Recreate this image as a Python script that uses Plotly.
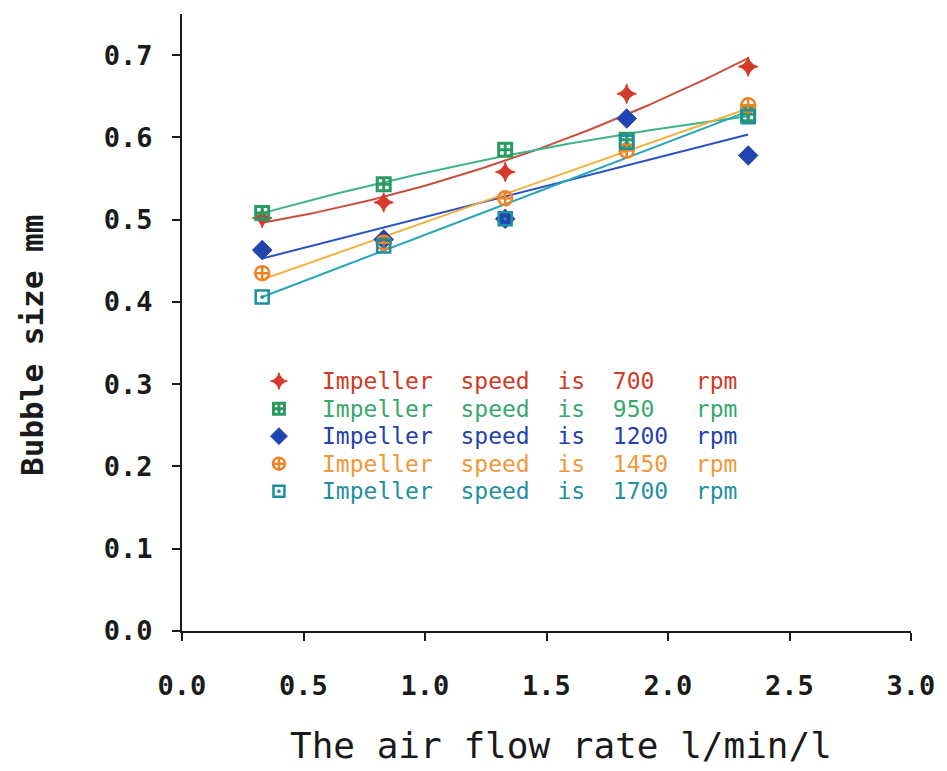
import numpy as np
import plotly.graph_objects as go

# ---------------- data ----------------
air_flow = [0.33, 0.83, 1.33, 1.83, 2.33]
speeds = [700, 950, 1200, 1450, 1700]
bubble_700 = [0.502, 0.521, 0.558, 0.653, 0.686]
bubble_950 = [0.508, 0.543, 0.585, 0.597, 0.628]
bubble_1200 = [0.463, 0.476, 0.501, 0.623, 0.578]
bubble_1450 = [0.435, 0.472, 0.526, 0.584, 0.639]
bubble_1700 = [0.406, 0.468, 0.501, 0.594, 0.625]
fit_degree = [2, 2, 1, 1, 1]

x_tickvals = [0.0, 0.5, 1.0, 1.5, 2.0, 2.5, 3.0]
x_ticktext = ["0.0", "0.5", "1.0", "1.5", "2.0", "2.5", "3.0"]
y_tickvals = [0.0, 0.1, 0.2, 0.3, 0.4, 0.5, 0.6, 0.7]
y_ticktext = ["0.0", "0.1", "0.2", "0.3", "0.4", "0.5", "0.6", "0.7"]

# ---------------- styles ----------------
series = [bubble_700, bubble_950, bubble_1200, bubble_1450, bubble_1700]
marker_colors = ["#d63a2a", "#2a9a62", "#2244b0", "#f08424", "#1a8fa0"]
line_colors = ["#c8503e", "#3fb486", "#2a50c6", "#f2b240", "#26a6b6"]
text_colors = ["#cf3a26", "#38a86e", "#2442ae", "#f0983a", "#1f8f9f"]
symbols = ["star-diamond", "square-cross-open", "diamond", "circle-cross-open", "square-open-dot"]
sizes = [14, 13, 15, 14, 13]
line_widths = [1, 3, 1, 2.5, 2.5]

MONO = "DejaVu Sans Mono"
NB = "\u00a0"
GAP = NB * 2

fig = go.Figure()

# fitted trend lines
xs = np.linspace(air_flow[0], air_flow[-1], 80)
for ys, deg, col in zip(series, fit_degree, line_colors):
    coef = np.polyfit(air_flow, ys, deg)
    fig.add_trace(go.Scatter(x=xs, y=np.polyval(coef, xs), mode="lines",
                             line=dict(color=col, width=2), showlegend=False,
                             hoverinfo="skip"))

# data markers
for sp, ys, col, sym, sz, lw in zip(speeds, series, marker_colors, symbols, sizes, line_widths):
    fig.add_trace(go.Scatter(x=air_flow, y=ys, mode="markers", name=f"{sp} rpm",
                             marker=dict(symbol=sym, size=sz, color=col,
                                         line=dict(color=col, width=lw)),
                             showlegend=False))

# custom legend (symbols on an overlay axis, text as annotations)
leg_x = 0.133
leg_text_x = 0.19
leg_top = 0.405
leg_step = 0.0446
leg_y = [leg_top - i * leg_step for i in range(len(speeds))]
for i, (sp, col, sym, sz, lw) in enumerate(zip(speeds, marker_colors, symbols, sizes, line_widths)):
    fig.add_trace(go.Scatter(x=[leg_x], y=[leg_y[i]], xaxis="x2", yaxis="y2", mode="markers",
                             marker=dict(symbol=sym, size=sz - 2, color=col,
                                         line=dict(color=col, width=lw)),
                             showlegend=False, hoverinfo="skip"))
    label = GAP.join(["Impeller", "speed", "is", str(sp).ljust(4, NB), "rpm"])
    fig.add_annotation(x=leg_text_x, y=leg_y[i], xref="paper", yref="paper",
                       text=label, showarrow=False, xanchor="left", yanchor="middle",
                       borderpad=0,
                       font=dict(family=MONO, size=23, color=text_colors[i]))

# axis titles as annotations for precise placement
fig.add_annotation(x=0.52, y=-0.185, xref="paper", yref="paper",
                   text="The air flow rate l/min/l", showarrow=False,
                   xanchor="center", yanchor="middle",
                   font=dict(family=MONO, size=36, color="#1a1a1a"))
fig.add_annotation(x=-0.205, y=0.463, xref="paper", yref="paper",
                   text="Bubble size mm", showarrow=False, textangle=-90,
                   xanchor="center", yanchor="middle",
                   font=dict(family=MONO, size=31, color="#1a1a1a", weight="bold"))

tickfont = dict(family=MONO, size=27, color="#1a1a1a", weight="bold")
fig.update_layout(
    width=947, height=771,
    margin=dict(l=182, r=29, t=14, b=140),
    paper_bgcolor="white", plot_bgcolor="white",
    showlegend=False,
    xaxis=dict(range=[0, 3], tickvals=x_tickvals, ticktext=x_ticktext,
               showgrid=False, zeroline=False, showline=True, linecolor="#1a1a1a",
               linewidth=2, ticks="outside", ticklen=8, tickwidth=2, tickcolor="#1a1a1a",
               tickfont=tickfont, ticklabelstandoff=22),
    yaxis=dict(range=[0, 0.75], tickvals=y_tickvals, ticktext=y_ticktext,
               showgrid=False, zeroline=False, showline=True, linecolor="#1a1a1a",
               linewidth=2, ticks="outside", ticklen=8, tickwidth=2, tickcolor="#1a1a1a",
               tickfont=tickfont, ticklabelstandoff=14),
    xaxis2=dict(range=[0, 1], overlaying="x", visible=False, fixedrange=True),
    yaxis2=dict(range=[0, 1], overlaying="y", visible=False, fixedrange=True),
)

fig.write_html("out.html", config={"displayModeBar": False},
               post_script="document.body.style.margin='0';")
